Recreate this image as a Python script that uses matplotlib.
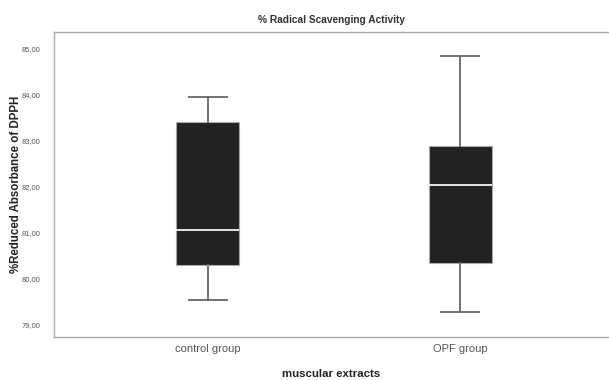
import matplotlib
matplotlib.use('Agg')
import matplotlib.pyplot as plt

plt.rcParams['font.family'] = ['Liberation Sans', 'DejaVu Sans']

# box plot statistics
groups = ['control group', 'OPF group']
whislo = [79.52, 79.27]
q1 = [80.28, 80.33]
med = [81.06, 82.03]
q3 = [83.40, 82.88]
whishi = [83.93, 84.83]

stats = []
for i in range(len(groups)):
    stats.append({'label': groups[i], 'whislo': whislo[i], 'q1': q1[i],
                  'med': med[i], 'q3': q3[i], 'whishi': whishi[i], 'fliers': []})

fig = plt.figure(figsize=(6.09, 3.80), dpi=100)
ax = fig.add_axes([54 / 609, 1 - 337.3 / 380, 555 / 609, (337.3 - 31.5) / 380])

ax.bxp(stats, positions=[1, 2], widths=0.25, patch_artist=True,
       boxprops=dict(facecolor='#222222', edgecolor='#aaaaaa', linewidth=0.8),
       medianprops=dict(color='#e6e6e6', linewidth=1.4),
       whiskerprops=dict(color='#666666', linewidth=1.3),
       capprops=dict(color='#666666', linewidth=1.3),
       capwidths=0.15)

ax.set_xlim(0.391, 2.589)
ax.set_ylim(78.72, 85.36)
ax.set_yticks([79, 80, 81, 82, 83, 84, 85])
ax.set_yticklabels([f'{v:.2f}'.replace('.', ',') for v in [79, 80, 81, 82, 83, 84, 85]])

ax.spines['right'].set_visible(False)
for s in ['left', 'top', 'bottom']:
    ax.spines[s].set_color('#aaaaaa')
    ax.spines[s].set_linewidth(1.0)

ax.tick_params(axis='both', length=0, colors='#555555')
ax.tick_params(axis='y', labelsize=5.4, pad=9.5)
ax.tick_params(axis='x', labelsize=8, pad=5)

ax.set_title('% Radical Scavenging Activity', fontsize=7.3, fontweight='bold', color='#333333', pad=6)
ax.set_xlabel('muscular extracts', fontsize=8.2, fontweight='bold', color='#222222', labelpad=10.5)
ax.set_ylabel('%Reduced Absorbance of DPPH', fontsize=8.3, fontweight='bold', color='#222222', labelpad=0)

plt.savefig('out.png', dpi=100)
